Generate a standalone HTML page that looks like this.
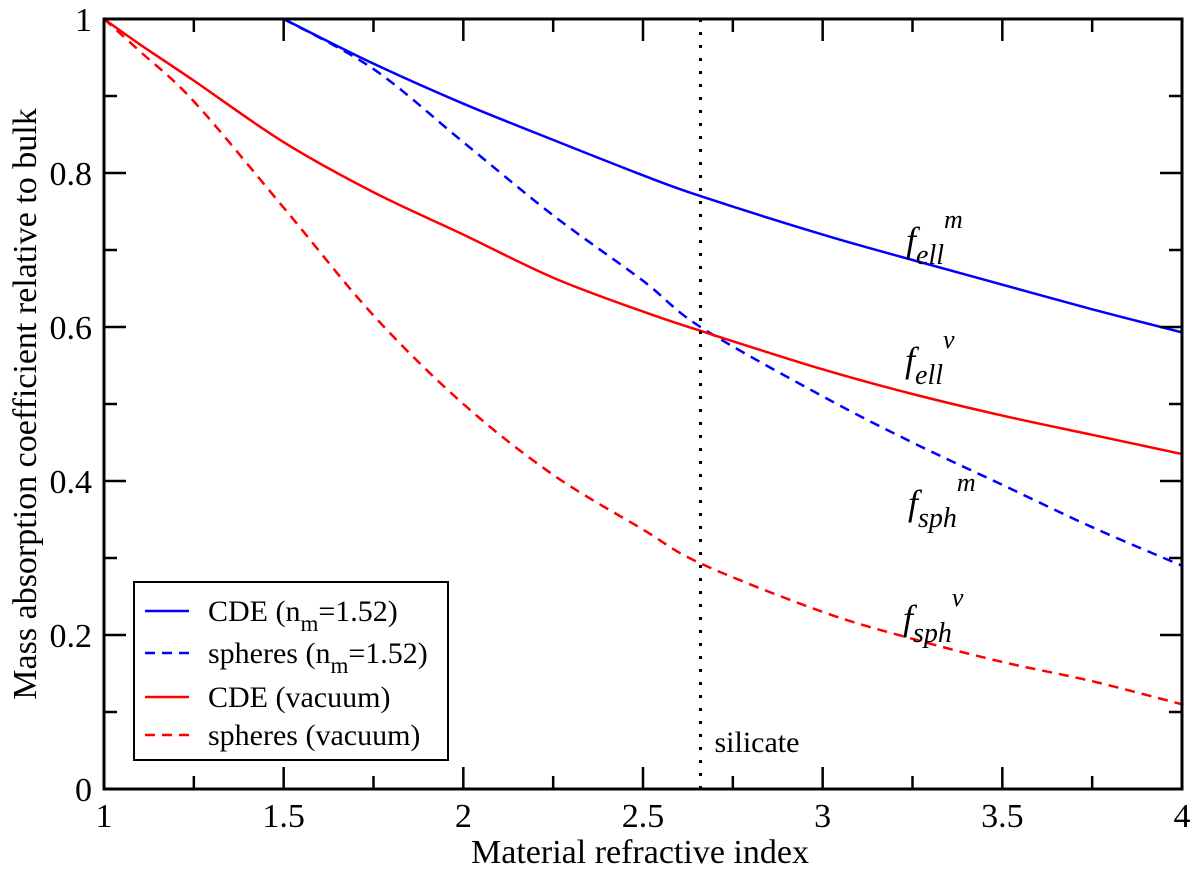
<!DOCTYPE html>
<html><head><meta charset="utf-8"><style>
body{margin:0;background:#fff}
text{font-family:"Liberation Serif",serif;fill:#000}
</style></head><body>
<svg id="chart" width="1200" height="870" xmlns="http://www.w3.org/2000/svg" font-family="Liberation Serif, serif">
<g id="plot"></g>
</svg>
<script>
const xVals1=[1.5,1.75,2,2.25,2.5,2.66,3,3.25,3.5,3.75,4];
const cdeMedium=[1,0.942,0.89,0.843,0.797,0.77,0.72,0.687,0.655,0.623,0.593];
const xVals2=[1.5,1.75,2,2.25,2.5,2.66,3,3.25,3.5,3.75,4];
const sphMedium=[1,0.935,0.84,0.745,0.66,0.60,0.51,0.45,0.395,0.34,0.29];
const xVals3=[1,1.1,1.25,1.5,1.75,2,2.25,2.5,2.66,3,3.25,3.5,3.75,4];
const cdeVacuum=[1,0.967,0.92,0.84,0.775,0.72,0.664,0.62,0.595,0.545,0.513,0.485,0.46,0.435];
const sphVacuum=[1,0.958,0.893,0.755,0.615,0.50,0.408,0.337,0.293,0.23,0.195,0.165,0.14,0.11];
const xTicks=[1,1.5,2,2.5,3,3.5,4];
const xTickLabels=["1","1.5","2","2.5","3","3.5","4"];
const yTicks=[0,0.2,0.4,0.6,0.8,1];
const yTickLabels=["0","0.2","0.4","0.6","0.8","1"];
const silicateN=2.66;

const X0=104,X1=1182,Y0=789,Y1=19;
const sx=v=>X0+(v-1)/3*(X1-X0);
const sy=v=>Y0-v*(Y0-Y1);
const NS="http://www.w3.org/2000/svg";
const g=document.getElementById('plot');
function mk(tag,attrs,parent){const e=document.createElementNS(NS,tag);for(const k in attrs)e.setAttribute(k,attrs[k]);(parent||g).appendChild(e);return e;}

function smoothPath(pts){
  let d='M'+pts[0][0]+','+pts[0][1];
  for(let i=0;i<pts.length-1;i++){
    const p0=pts[Math.max(0,i-1)],p1=pts[i],p2=pts[i+1],p3=pts[Math.min(pts.length-1,i+2)];
    const c1=[p1[0]+(p2[0]-p0[0])/6,p1[1]+(p2[1]-p0[1])/6];
    const c2=[p2[0]-(p3[0]-p1[0])/6,p2[1]-(p3[1]-p1[1])/6];
    d+='C'+c1[0]+','+c1[1]+' '+c2[0]+','+c2[1]+' '+p2[0]+','+p2[1];
  }
  return d;
}
function series(xs,ys,color,dash,name){
  const pts=xs.map((x,i)=>[sx(x),sy(ys[i])]);
  const p=mk('path',{d:smoothPath(pts),fill:'none',stroke:color,'stroke-width':2.5,'stroke-dasharray':dash||'none'});
  
  
}
series(xVals1,cdeMedium,'#0000ff',null,'cde-medium-line');
series(xVals2,sphMedium,'#0000ff','10,7','spheres-medium-line');
series(xVals3,cdeVacuum,'#ff0000',null,'cde-vacuum-line');
series(xVals3,sphVacuum,'#ff0000','10,7','spheres-vacuum-line');

const sil=mk('line',{x1:sx(silicateN),x2:sx(silicateN),y1:Y1,y2:Y0,stroke:'#000','stroke-width':3,'stroke-dasharray':'3,10'});


const silT=mk('text',{x:sx(silicateN)+14,y:752,'font-size':30});silT.textContent='silicate';



const frame=mk('rect',{x:X0,y:Y1,width:X1-X0,height:Y0-Y1,fill:'none',stroke:'#000','stroke-width':3});



for(let v=1;v<=4.001;v+=0.25){
  const major=Math.abs(v*2-Math.round(v*2))<1e-6;const L=major?22:13;
  mk('line',{x1:sx(v),x2:sx(v),y1:Y0,y2:Y0-L,stroke:'#000','stroke-width':2.5});
  mk('line',{x1:sx(v),x2:sx(v),y1:Y1,y2:Y1+L,stroke:'#000','stroke-width':2.5});
}
for(let i=0;i<=10;i++){
  const v=i/10;const major=i%2==0;const L=major?22:13;
  mk('line',{x1:X0,x2:X0+L,y1:sy(v),y2:sy(v),stroke:'#000','stroke-width':2.5});
  mk('line',{x1:X1,x2:X1-L,y1:sy(v),y2:sy(v),stroke:'#000','stroke-width':2.5});
}
xTicks.forEach((v,i)=>{const t=mk('text',{x:sx(v),y:Y0+38,'font-size':34,'text-anchor':'middle'});t.textContent=xTickLabels[i];

});
yTicks.forEach((v,i)=>{const t=mk('text',{x:X0-12,y:sy(v)+12,'font-size':34,'text-anchor':'end'});t.textContent=yTickLabels[i];

});

const xt=mk('text',{x:640,y:863,'font-size':34,'text-anchor':'middle'});xt.textContent='Material refractive index';


const yt=mk('text',{x:0,y:0,'font-size':34,'text-anchor':'middle',transform:'translate(36,404) rotate(-90)'});yt.textContent='Mass absorption coefficient relative to bulk';



function flab(x,y,sub,sup,name){
  const t=mk('text',{x:x,y:y,'font-size':36,'font-style':'italic'});
  t.innerHTML='f<tspan font-size="28" dy="12">'+sub+'</tspan><tspan font-size="26" dy="-36">'+sup+'</tspan>';
  
  
}
flab(906,252,'ell','m','label-f-ell-m');
flab(905,372,'ell','v','label-f-ell-v');
flab(908,515,'sph','m','label-f-sph-m');
flab(903,630,'sph','v','label-f-sph-v');

const lg=mk('g',{});


mk('rect',{x:134,y:582,width:314,height:178,fill:'#fff',stroke:'#000','stroke-width':2},lg);
const entries=[['CDE (n','m','=1.52)','#0000ff',null],['spheres (n','m','=1.52)','#0000ff','10,7'],['CDE (vacuum)','','','#ff0000',null],['spheres (vacuum)','','','#ff0000','10,7']];
const ey=[611,653,697,735];
entries.forEach((e,i)=>{
  const eg=mk('g',{},lg);
  
  
  mk('line',{x1:145,x2:189,y1:ey[i],y2:ey[i],stroke:e[3],'stroke-width':2.5,'stroke-dasharray':e[4]||'none'},eg);
  const t=mk('text',{x:208,y:ey[i]+10,'font-size':30},eg);
  t.innerHTML=e[0]+(e[1]?'<tspan font-size="23" dy="10">'+e[1]+'</tspan><tspan dy="-10">'+e[2]+'</tspan>':'');
});
</script>
</body></html>
